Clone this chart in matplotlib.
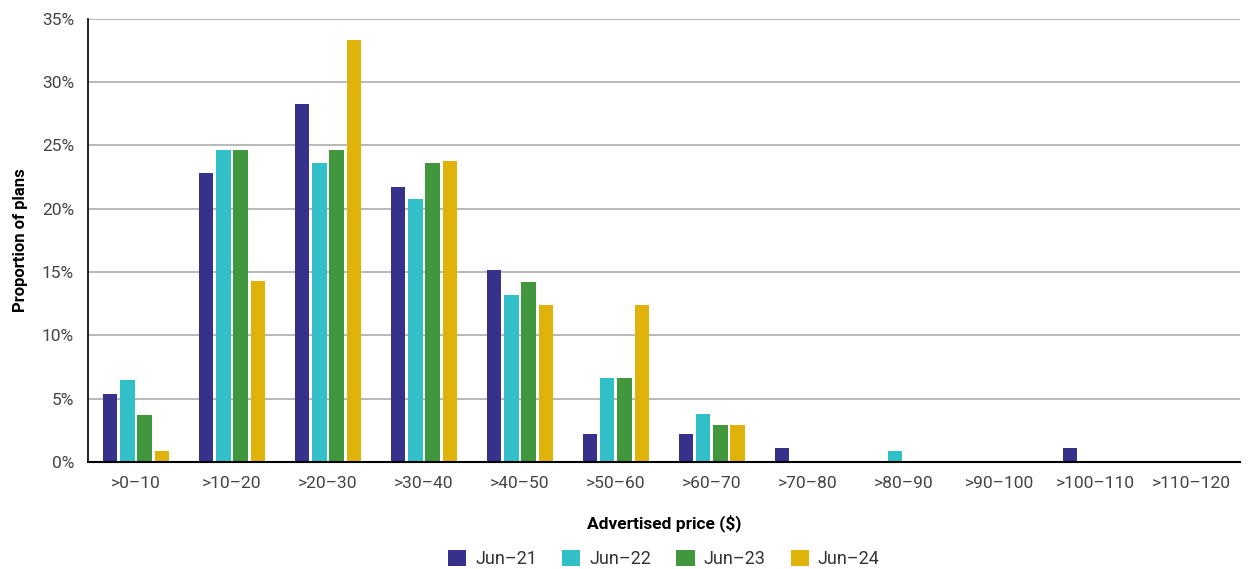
import matplotlib.pyplot as plt
import numpy as np
from matplotlib.ticker import PercentFormatter

plt.rcParams['font.family'] = ['Roboto', 'DejaVu Sans']

categories = ['>0–10', '>10–20', '>20–30', '>30–40', '>40–50', '>50–60',
              '>60–70', '>70–80', '>80–90', '>90–100', '>100–110', '>110–120']
jun21 = [5.4, 22.8, 28.3, 21.7, 15.2, 2.2, 2.2, 1.1, 0, 0, 1.1, 0]
jun22 = [6.5, 24.6, 23.6, 20.8, 13.2, 6.6, 3.8, 0, 0.9, 0, 0, 0]
jun23 = [3.7, 24.6, 24.6, 23.6, 14.2, 6.6, 2.9, 0, 0, 0, 0, 0]
jun24 = [0.9, 14.3, 33.3, 23.8, 12.4, 12.4, 2.9, 0, 0, 0, 0, 0]

series = [('Jun–21', jun21, '#36318a'),
          ('Jun–22', jun22, '#31c0c8'),
          ('Jun–23', jun23, '#42963d'),
          ('Jun–24', jun24, '#e0b30a')]

fig = plt.figure(figsize=(12.49, 5.69), dpi=100)
ax = fig.add_axes([0.0705, 0.188, 0.922, 0.779])

x = np.arange(len(categories))
step = 0.18
for i, (name, vals, col) in enumerate(series):
    ax.bar(x + (i - 1.5) * step, vals, width=step * 0.84, color=col,
           linewidth=0, label=name, zorder=3)

ax.set_xlim(-0.5, len(categories) - 0.5)
ax.set_ylim(0, 35)
ax.set_yticks(np.arange(0, 36, 5))
ax.yaxis.set_major_formatter(PercentFormatter(decimals=0))
ax.grid(axis='y', color='#a6a6a6', linewidth=1.1, zorder=0)
ax.set_xticks(x)
ax.set_xticklabels(categories)
ax.tick_params(length=0, labelsize=12.5, colors='#444444', pad=10)

for s in ['top', 'right']:
    ax.spines[s].set_visible(False)
for s in ['left', 'bottom']:
    ax.spines[s].set_zorder(5)
ax.spines['left'].set_linewidth(1.2)
ax.spines['bottom'].set_linewidth(1.5)

ax.set_ylabel('Proportion of plans', fontsize=12, fontweight='bold', labelpad=10)
ax.set_xlabel('Advertised price ($)', fontsize=12.5, fontweight='bold', labelpad=17)

# legend centred under the plot area
fig.legend(loc='center', bbox_to_anchor=(0.5315, 0.017), ncol=4, frameon=False,
           fontsize=13, handlelength=1.0, handleheight=1.0, columnspacing=1.4,
           handletextpad=0.5, borderpad=0, labelcolor='#333333')

plt.savefig('out.png')
